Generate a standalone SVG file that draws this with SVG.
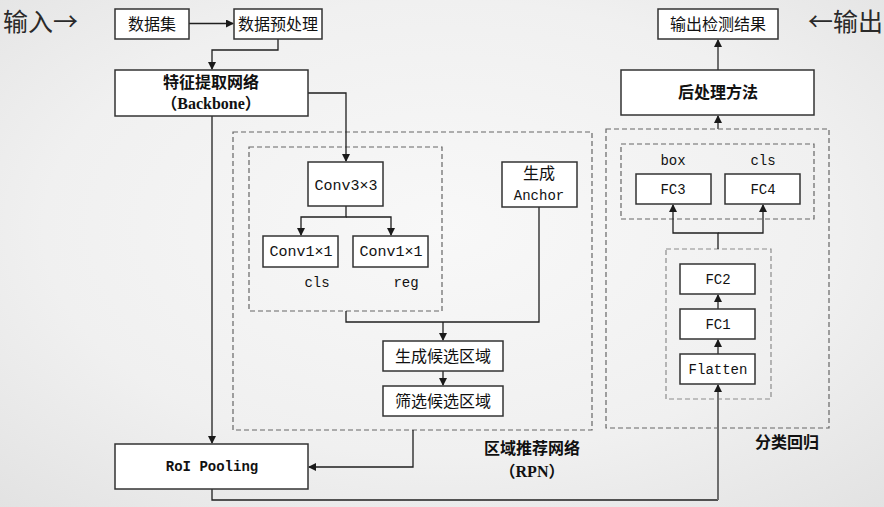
<svg xmlns="http://www.w3.org/2000/svg" width="884" height="507" viewBox="0 0 884 507">
  <defs>
    <radialGradient id="bg" cx="0.5" cy="0.45" r="0.75">
      <stop offset="0" stop-color="#f8f8f8"/>
      <stop offset="0.6" stop-color="#f0f0f0"/>
      <stop offset="1" stop-color="#e2e2e2"/>
    </radialGradient>
    <marker id="arr" markerUnits="userSpaceOnUse" markerWidth="8" markerHeight="8" refX="7" refY="4" orient="auto">
      <path d="M0,0 L8,4 L0,8 z" fill="#1a1a1a"/>
    </marker>
  </defs>
  <style>
    .box { fill: #ffffff; stroke: #333333; stroke-width: 1.5; }
    .dash { fill: none; stroke: #666666; stroke-width: 1.2; stroke-dasharray: 5 3; }
    .dashL { fill: none; stroke: #8c8c8c; stroke-width: 1.2; stroke-dasharray: 5 3; }
    .ln { fill: none; stroke: #1f1f1f; stroke-width: 1.3; }
    .lnG { fill: none; stroke: #6e6e6e; stroke-width: 2; }
    .zh { font-family: "Noto Sans CJK SC", "Noto Sans", sans-serif; font-size: 16px; fill: #111111; text-anchor: middle; }
    .zhb { font-family: "Noto Sans CJK SC", "Noto Sans", sans-serif; font-size: 16px; font-weight: bold; fill: #111111; text-anchor: middle; }
    .en { font-family: "Liberation Mono", "Noto Sans CJK SC", monospace; font-size: 14px; fill: #111111; text-anchor: middle; }
    .enb { font-family: "Liberation Serif", "Noto Sans CJK SC", serif; font-size: 16px; font-weight: bold; fill: #111111; text-anchor: middle; }
    .big { font-family: "Noto Sans CJK SC", "Noto Sans", sans-serif; font-size: 25px; fill: #2a2a2a; }
  </style>

  <rect x="0" y="0" width="884" height="507" fill="url(#bg)"/>

  <!-- input / output captions -->
  <text class="big" x="3" y="31">输入→</text>
  <text class="big" x="808" y="31">←输出</text>

  <!-- dashed region frames -->
  <g id="rpn-frame">
    <rect class="dash" x="233" y="132" width="359" height="298"/>
    <rect class="dash" x="249" y="147" width="193" height="164"/>
    <text class="zhb" x="532" y="454">区域推荐网络</text>
    <text class="enb" x="532" y="477">（RPN）</text>
  </g>
  <g id="head-frame">
    <rect class="dash" x="606" y="129" width="223" height="299"/>
    <rect class="dash" x="621" y="144" width="193" height="75"/>
    <rect class="dashL" x="666" y="249" width="105" height="150"/>
    <text class="zhb" x="787" y="448">分类回归</text>
  </g>

  <!-- connectors -->
  <g id="connectors">
    <path class="ln" d="M189,23.5 H233" marker-end="url(#arr)"/>
    <path class="ln" d="M278,39 V50 H212 V69" marker-end="url(#arr)"/>
    <path class="ln" d="M308,93 H346 V161" marker-end="url(#arr)"/>
    <path class="ln" d="M212,116 V443" marker-end="url(#arr)"/>
    <path class="ln" d="M346,206 V217 H301 V235" marker-end="url(#arr)"/>
    <path class="ln" d="M346,217 H391 V235" marker-end="url(#arr)"/>
    <path class="ln" d="M346,311 V322 H539 V207"/>
    <path class="ln" d="M443,322 V340" marker-end="url(#arr)"/>
    <path class="ln" d="M443,371 V385" marker-end="url(#arr)"/>
    <path class="ln" d="M413,430 V467 H309" marker-end="url(#arr)"/>
    <path class="ln" d="M212,489 V500 H718"/>
    <path class="lnG" d="M718,500 V385" marker-end="url(#arr)"/>
    <path class="lnG" d="M718,354 V340" marker-end="url(#arr)"/>
    <path class="lnG" d="M718,309 V295" marker-end="url(#arr)"/>
    <path class="ln" d="M718,249 V233 H673 V205" marker-end="url(#arr)"/>
    <path class="ln" d="M718,233 H763 V205" marker-end="url(#arr)"/>
    <path class="lnG" d="M718,129 V116" marker-end="url(#arr)"/>
    <path class="lnG" d="M718,70 V40" marker-end="url(#arr)"/>
  </g>

  <!-- nodes -->
  <g id="dataset">
    <rect class="box" x="115" y="9" width="74" height="30"/>
    <text class="zh" x="152" y="30">数据集</text>
  </g>
  <g id="preprocess">
    <rect class="box" x="234" y="9" width="88" height="30"/>
    <text class="zh" x="278" y="30">数据预处理</text>
  </g>
  <g id="backbone">
    <rect class="box" x="115" y="70" width="193" height="46"/>
    <text class="zhb" x="211" y="88">特征提取网络</text>
    <text class="enb" x="211" y="109">（Backbone）</text>
  </g>
  <g id="conv3">
    <rect class="box" x="308" y="162" width="75" height="44"/>
    <text class="en" x="346" y="190" style="font-size:15px">Conv3×3</text>
  </g>
  <g id="conv1-cls">
    <rect class="box" x="263" y="236" width="75" height="31"/>
    <text class="en" x="301" y="256" style="font-size:15px">Conv1×1</text>
    <text class="en" x="317" y="287">cls</text>
  </g>
  <g id="conv1-reg">
    <rect class="box" x="353" y="236" width="75" height="31"/>
    <text class="en" x="391" y="256" style="font-size:15px">Conv1×1</text>
    <text class="en" x="406" y="287">reg</text>
  </g>
  <g id="anchor">
    <rect class="box" x="502" y="162" width="75" height="45"/>
    <text class="zh" x="539" y="179">生成</text>
    <text class="en" x="539" y="200">Anchor</text>
  </g>
  <g id="gen-proposals">
    <rect class="box" x="383" y="341" width="120" height="30"/>
    <text class="zh" x="443" y="362">生成候选区域</text>
  </g>
  <g id="filter-proposals">
    <rect class="box" x="383" y="386" width="120" height="30"/>
    <text class="zh" x="443" y="407">筛选候选区域</text>
  </g>
  <g id="roi-pooling">
    <rect class="box" x="115" y="444" width="193" height="45"/>
    <text class="en" x="212" y="471" style="font-weight:bold">RoI Pooling</text>
  </g>
  <g id="flatten">
    <rect class="box" x="680" y="354" width="75" height="30"/>
    <text class="en" x="718" y="374">Flatten</text>
  </g>
  <g id="fc1">
    <rect class="box" x="680" y="309" width="75" height="30"/>
    <text class="en" x="718" y="329">FC1</text>
  </g>
  <g id="fc2">
    <rect class="box" x="680" y="264" width="75" height="30"/>
    <text class="en" x="718" y="284">FC2</text>
  </g>
  <g id="fc3">
    <rect class="box" x="636" y="174" width="75" height="30"/>
    <text class="en" x="673" y="194">FC3</text>
    <text class="en" x="673" y="165">box</text>
  </g>
  <g id="fc4">
    <rect class="box" x="725" y="174" width="75" height="30"/>
    <text class="en" x="763" y="194">FC4</text>
    <text class="en" x="763" y="165">cls</text>
  </g>
  <g id="postprocess">
    <rect class="box" x="621" y="70" width="193" height="45"/>
    <text class="zhb" x="718" y="98">后处理方法</text>
  </g>
  <g id="output">
    <rect class="box" x="658" y="9" width="120" height="30"/>
    <text class="zh" x="718" y="30">输出检测结果</text>
  </g>
</svg>
